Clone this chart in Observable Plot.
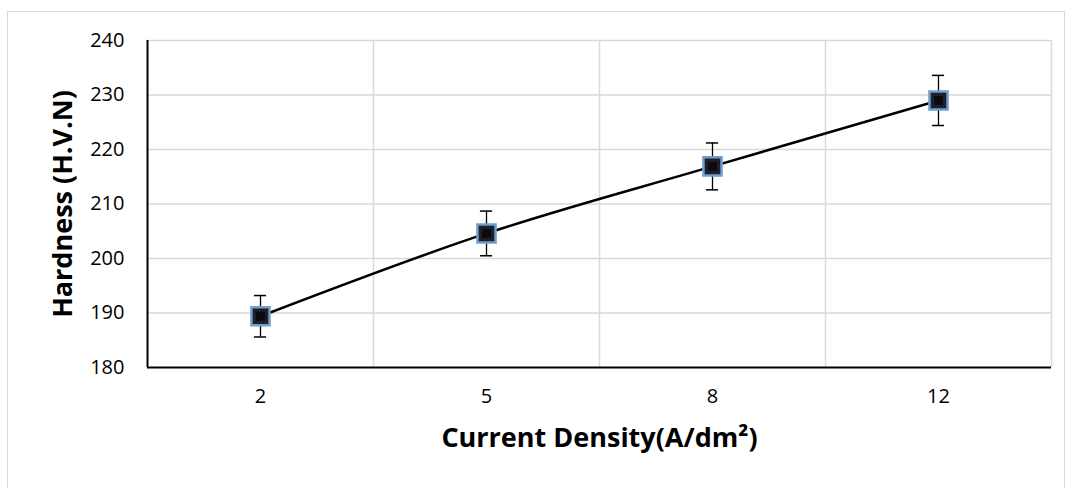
<!DOCTYPE html>
<html>
<head>
<meta charset="utf-8">
<script src="https://cdn.jsdelivr.net/npm/d3@7"></script>
<script src="https://cdn.jsdelivr.net/npm/@observablehq/plot@0.6"></script>
<style>
  html, body { margin: 0; padding: 0; background: #fff; }
  #wrap { position: relative; width: 1068px; height: 488px; overflow: hidden; }
  #border { position: absolute; left: 7px; top: 11px; width: 1058px; height: 500px; border: 1.5px solid #d9d9d9; box-sizing: border-box; }
  #chart { position: absolute; left: 0; top: 0; }
</style>
</head>
<body>
<div id="wrap"><div id="border"></div><div id="chart"></div></div>
<script>
const currents = ["2", "5", "8", "12"];
const hardness = [189.4, 204.6, 216.9, 229.0];
const errors = [3.8, 4.1, 4.3, 4.6];
const yTicks = [180, 190, 200, 210, 220, 230, 240];
const xTitle = "Current Density(A/dm²)";
const yTitle = "Hardness (H.V.N)";

const data = currents.map((c, i) => ({i, c, h: hardness[i], e: errors[i]}));
const boundaries = currents.map((c, i) => i + 0.5);
const capHalf = 0.027;
const font = "'Open Sans', sans-serif";

const chart = Plot.plot({
  width: 1068,
  height: 488,
  marginLeft: 147,
  marginRight: 17,
  marginTop: 40,
  marginBottom: 121,
  style: {fontFamily: font, color: "#000", background: "transparent"},
  x: {type: "linear", domain: [-0.5, currents.length - 0.5]},
  y: {domain: [180, 240]},
  marks: [
    Plot.ruleY(yTicks.slice(1), {stroke: "#d9d9d9", strokeWidth: 1.5}),
    Plot.ruleX(boundaries, {y1: 180, y2: 240, stroke: "#d9d9d9", strokeWidth: 1.5}),
    Plot.axisX(data.map(d => d.i), {tickSize: 0, tickPadding: 21, tickFormat: i => currents[i], fontSize: 20, label: null}),
    Plot.axisY(yTicks, {tickSize: 0, tickPadding: 23, fontSize: 20, label: null}),
    Plot.ruleY([180], {stroke: "#000", strokeWidth: 2}),
    Plot.ruleX([-0.5], {y1: 180, y2: 240, stroke: "#000", strokeWidth: 2}),
    Plot.line(data, {x: "i", y: "h", curve: "catmull-rom", stroke: "#000", strokeWidth: 2.5}),
    Plot.ruleX(data, {x: "i", y1: d => d.h - d.e, y2: d => d.h + d.e, stroke: "#000", strokeWidth: 1.3}),
    Plot.ruleY(data, {y: d => d.h + d.e, x1: d => d.i - capHalf, x2: d => d.i + capHalf, stroke: "#000", strokeWidth: 1.5}),
    Plot.ruleY(data, {y: d => d.h - d.e, x1: d => d.i - capHalf, x2: d => d.i + capHalf, stroke: "#000", strokeWidth: 1.5}),
    Plot.dot(data, {x: "i", y: "h", symbol: "square", r: 10.2, fill: "#1e1f2a", stroke: "#6f9fcb", strokeWidth: 2.5}),
    Plot.dot(data, {x: "i", y: "h", symbol: "square", r: 5, fill: "#0a0a10", stroke: "none"}),
    Plot.text([xTitle], {frameAnchor: "bottom", dy: 79, fontSize: 27, fontWeight: "bold"}),
    Plot.text([yTitle], {frameAnchor: "left", textAnchor: "middle", dx: -84, rotate: -90, fontSize: 27, fontWeight: "bold"})
  ]
});
document.getElementById("chart").appendChild(chart);
</script>
</body>
</html>
